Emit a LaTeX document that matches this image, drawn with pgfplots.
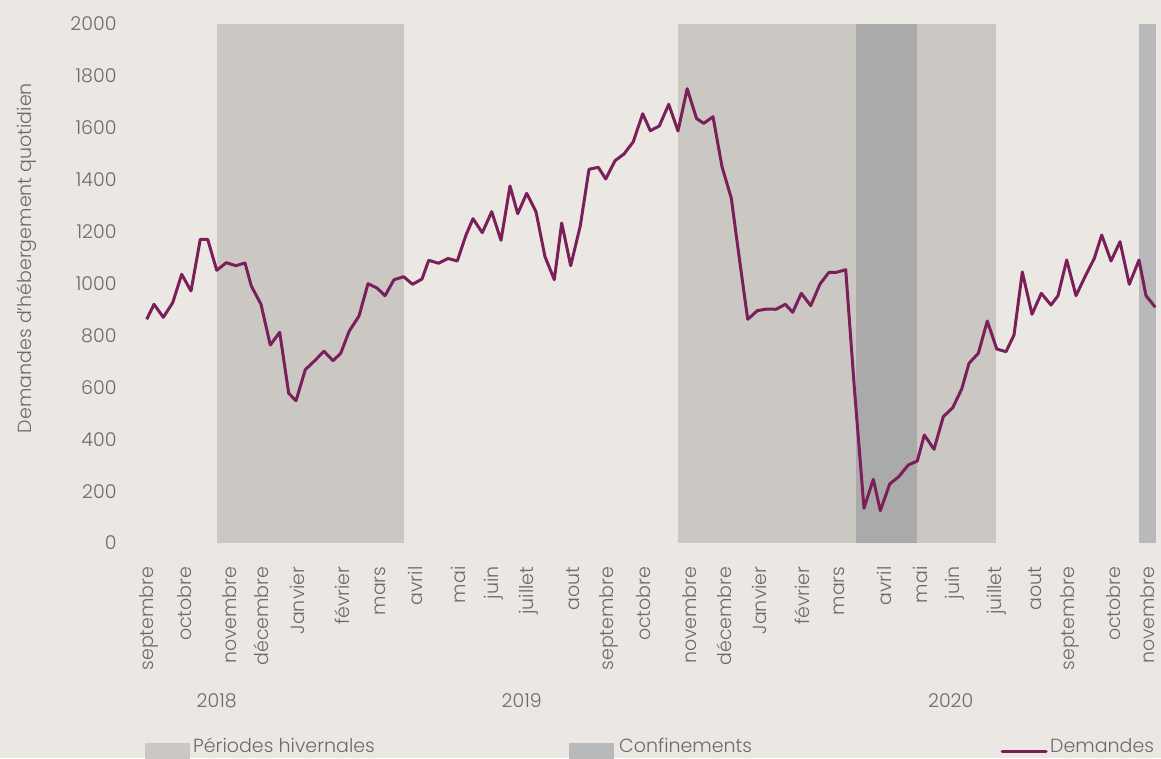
\documentclass[border=0pt]{standalone}
\usepackage{pgfplots}
\pgfplotsset{compat=1.18}
\usepackage{fontspec}
\setmainfont{Poppins}[UprightFont=* Light]
\definecolor{bg}{HTML}{EBE7E2}
\definecolor{winter}{HTML}{CBC8C3}
\definecolor{confA}{HTML}{AAAAAA}
\definecolor{confB}{HTML}{B8B9BB}
\definecolor{lineC}{RGB}{123,31,90}
\definecolor{txt}{HTML}{6B6B6B}
\newcommand\f{\fontsize{19}{22}\selectfont}
\begin{document}
\begin{tikzpicture}[x=1pt,y=1pt]
\fill[bg] (0,0) rectangle (1161,758);
\useasboundingbox (0,0) rectangle (1161,758);
\begin{axis}[
  at={(146pt,215pt)}, anchor=south west,
  width=1011pt, height=519pt, scale only axis,
  xmin=146, xmax=1157, ymin=0, ymax=2000,
  axis line style={draw=none},
  clip=false,
  major tick length=0pt,
  ytick={0,200,...,2000},
  /pgf/number format/assume math mode=true,
  /pgf/number format/1000 sep={},
  yticklabel style={font=\f, text=txt, xshift=-26pt},
  xtick={149,185,229.3,261.7,297.7,342.3,380,415,458.3,494,529,573.3,609,644,689.3,724.3,759.3,802.3,839.3,884.3,920,954.3,996.7,1035,1070,1113.3,1147.5},
  xticklabels={septembre,octobre,novembre,décembre,Janvier,février,mars,avril,mai,juin,juillet,aout,septembre,octobre,novembre,décembre,Janvier,février,mars,avril,mai,juin,juillet,aout,septembre,octobre,novembre},
  xticklabel style={font=\f, text=txt, rotate=90, anchor=east, xshift=-20pt},
]
% winter periods
\addplot[fill=winter, draw=none] coordinates {(217,0) (217,2000) (404,2000) (404,0)} -- cycle;
\addplot[fill=winter, draw=none] coordinates {(678.3,0) (678.3,2000) (996.3,2000) (996.3,0)} -- cycle;
% lockdowns
\addplot[fill=confA, draw=none] coordinates {(855.5,0) (855.5,2000) (917.2,2000) (917.2,0)} -- cycle;
\addplot[fill=confB, draw=none] coordinates {(1138.5,0) (1138.5,2000) (1155.8,2000) (1155.8,0)} -- cycle;
% demandes
\addplot[lineC, line width=3pt, line join=round, no marks] coordinates {
(146.7,862.0) (154,919.8) (163.3,869.7) (172.7,926.0) (181.7,1035.5) (191,971.1)
(200.3,1170.3) (207.7,1170.3) (216.7,1050.9) (226.3,1080.2) (235.7,1068.6) (245,1079.0)
(251.3,990.4) (261,919.8) (270.3,763.0) (279.7,812.0) (288.7,576.9) (296,548.4)
(305.3,667.8) (314.7,702.5) (324,738.7) (333,702.5) (340.7,731.0) (349.3,817.0)
(359,874.8) (368,999.2) (377,982.7) (385,953.0) (394,1014.6) (403.7,1026.2)
(412.5,996.9) (422,1017.3) (428.7,1089.4) (438.5,1078.2) (448,1096.3) (457.3,1086.7)
(466,1186.9) (473,1249.7) (482.3,1195.8) (491.7,1276.7) (501,1166.5) (510,1375.7)
(517.7,1269.0) (526.7,1347.6) (536,1276.7) (545,1103.3) (554.3,1014.6) (561.7,1233.1)
(570.7,1068.6) (580.3,1222.7) (589,1440.1) (598.3,1447.8) (605.7,1402.7) (615,1473.2)
(624,1499.0) (633.3,1546.4) (642.7,1654.3) (650.3,1588.8) (659.3,1606.9) (668.7,1690.6)
(678,1587.7) (687.2,1750.7) (696.5,1635.8) (703.8,1617.3) (713,1642.8) (722,1450.1)
(731.3,1328.3) (740,1077.8) (747.7,862.0) (757.3,895.2) (766.7,901.7) (776,900.6)
(785.3,919.8) (792.7,889.0) (801.3,962.2) (810.7,914.5) (820,998.1) (829,1043.2)
(836.7,1043.2) (845.7,1053.2) (854.5,590) (864,133.7) (873.3,245.5) (880.3,124.5)
(889.7,227.4) (898.7,255.5) (908.3,300.6) (917.3,316.0) (924.3,416.2) (934,361.1)
(943.3,486.7) (952.7,521.4) (961.7,593.4) (969,692.5) (978.3,731.0) (987.3,855.5)
(996.7,747.6) (1006,737.2) (1014,801.5) (1022.3,1044.3) (1032,881.3) (1041.3,962.2)
(1051,917.1) (1058,953.0) (1066.7,1090.6) (1076,953.0) (1085,1026.2) (1094.3,1097.1)
(1101.7,1186.9) (1111,1086.7) (1120,1161.1) (1129.3,996.9) (1139,1090.6) (1146,953.0)
(1155.3,908.3)
};
\end{axis}
% y label
\node[font=\f, text=txt, rotate=90] at (27,500) {Demandes d'hébergement quotidien};
% years
\node[font=\f, text=txt] at (216.7,57) {2018};
\node[font=\f, text=txt] at (521.7,57) {2019};
\node[font=\f, text=txt] at (950.7,57) {2020};
% legend
\fill[winter] (145,-5) rectangle (190,15);
\node[font=\f, text=txt, anchor=base west, inner sep=0pt] at (193,5.5) {Périodes hivernales};
\fill[confB] (569,-5) rectangle (614,15);
\node[font=\f, text=txt, anchor=base west, inner sep=0pt] at (619,5.5) {Confinements};
\draw[lineC, line width=3pt, line cap=round] (1002,6.3) -- (1046,6.3);
\node[font=\f, text=txt, anchor=base west, inner sep=0pt] at (1050,5.5) {Demandes};
\end{tikzpicture}
\end{document}
